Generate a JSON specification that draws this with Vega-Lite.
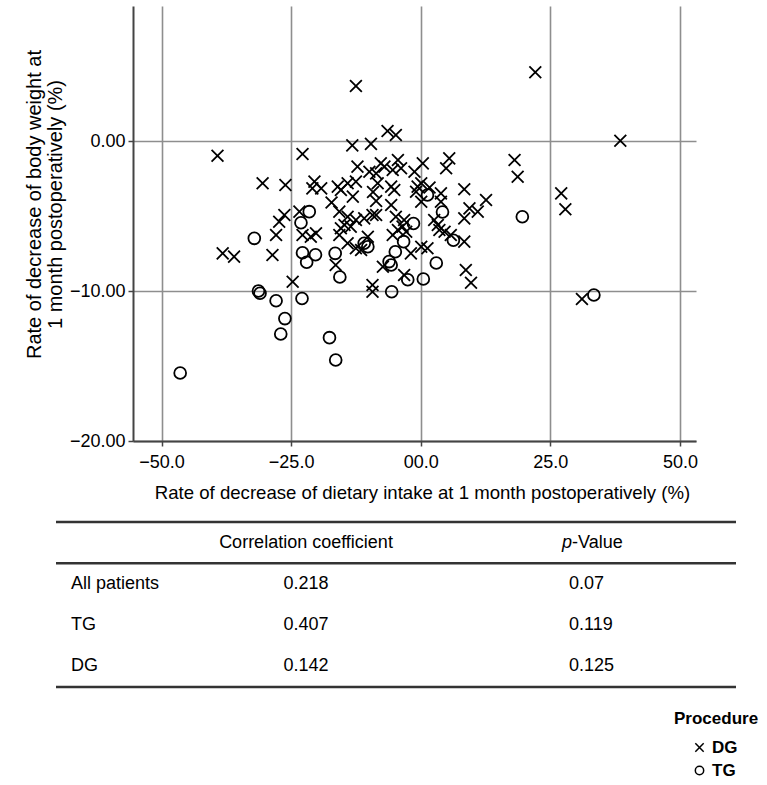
{
  "$schema": "https://vega.github.io/schema/vega-lite/v6.json",
  "background": "white",
  "padding": {"left": 24, "top": 6, "right": 5, "bottom": 5},
  "config": {"font": "Liberation Sans", "view": {"stroke": null}},
  "spacing": 18,
  "vconcat": [
    {
      "width": 563,
      "height": 435,
      "data": {"values": [
        {"intake": -46.4, "weight": -15.47, "Procedure": "TG"},
        {"intake": -32.1, "weight": -6.49, "Procedure": "TG"},
        {"intake": -31.3, "weight": -10.0, "Procedure": "TG"},
        {"intake": -31.0, "weight": -10.15, "Procedure": "TG"},
        {"intake": -27.9, "weight": -10.65, "Procedure": "TG"},
        {"intake": -22.9, "weight": -10.5, "Procedure": "TG"},
        {"intake": -26.2, "weight": -11.84, "Procedure": "TG"},
        {"intake": -27.0, "weight": -12.87, "Procedure": "TG"},
        {"intake": -17.6, "weight": -13.11, "Procedure": "TG"},
        {"intake": -16.4, "weight": -14.6, "Procedure": "TG"},
        {"intake": -22.8, "weight": -7.45, "Procedure": "TG"},
        {"intake": -20.3, "weight": -7.58, "Procedure": "TG"},
        {"intake": -22.0, "weight": -8.08, "Procedure": "TG"},
        {"intake": -16.5, "weight": -7.49, "Procedure": "TG"},
        {"intake": -15.6, "weight": -9.07, "Procedure": "TG"},
        {"intake": -21.5, "weight": -4.71, "Procedure": "TG"},
        {"intake": -23.1, "weight": -5.45, "Procedure": "TG"},
        {"intake": -10.9, "weight": -6.82, "Procedure": "TG"},
        {"intake": -10.2, "weight": -7.05, "Procedure": "TG"},
        {"intake": -4.9, "weight": -7.38, "Procedure": "TG"},
        {"intake": -3.3, "weight": -6.71, "Procedure": "TG"},
        {"intake": -6.1, "weight": -8.04, "Procedure": "TG"},
        {"intake": -5.7, "weight": -8.27, "Procedure": "TG"},
        {"intake": -2.5, "weight": -9.25, "Procedure": "TG"},
        {"intake": 0.5, "weight": -9.2, "Procedure": "TG"},
        {"intake": -5.6, "weight": -10.05, "Procedure": "TG"},
        {"intake": -1.4, "weight": -5.5, "Procedure": "TG"},
        {"intake": 1.3, "weight": -3.6, "Procedure": "TG"},
        {"intake": 4.2, "weight": -4.73, "Procedure": "TG"},
        {"intake": 6.3, "weight": -6.62, "Procedure": "TG"},
        {"intake": 3.0, "weight": -8.13, "Procedure": "TG"},
        {"intake": 19.6, "weight": -5.05, "Procedure": "TG"},
        {"intake": 33.4, "weight": -10.27, "Procedure": "TG"},
        {"intake": -12.5, "weight": 3.67, "Procedure": "DG"},
        {"intake": 22.1, "weight": 4.58, "Procedure": "DG"},
        {"intake": 38.5, "weight": 0.02, "Procedure": "DG"},
        {"intake": -39.2, "weight": -0.98, "Procedure": "DG"},
        {"intake": -22.8, "weight": -0.87, "Procedure": "DG"},
        {"intake": -13.2, "weight": -0.29, "Procedure": "DG"},
        {"intake": -9.6, "weight": -0.19, "Procedure": "DG"},
        {"intake": -6.4, "weight": 0.67, "Procedure": "DG"},
        {"intake": -4.8, "weight": 0.4, "Procedure": "DG"},
        {"intake": -30.5, "weight": -2.82, "Procedure": "DG"},
        {"intake": -26.1, "weight": -2.93, "Procedure": "DG"},
        {"intake": -20.5, "weight": -2.71, "Procedure": "DG"},
        {"intake": -20.9, "weight": -3.16, "Procedure": "DG"},
        {"intake": -19.2, "weight": -3.16, "Procedure": "DG"},
        {"intake": -12.2, "weight": -1.71, "Procedure": "DG"},
        {"intake": -16.0, "weight": -3.04, "Procedure": "DG"},
        {"intake": -15.4, "weight": -3.27, "Procedure": "DG"},
        {"intake": -14.1, "weight": -2.82, "Procedure": "DG"},
        {"intake": -12.5, "weight": -2.71, "Procedure": "DG"},
        {"intake": -13.1, "weight": -3.71, "Procedure": "DG"},
        {"intake": -17.2, "weight": -4.1, "Procedure": "DG"},
        {"intake": -9.9, "weight": -2.05, "Procedure": "DG"},
        {"intake": -8.6, "weight": -2.16, "Procedure": "DG"},
        {"intake": -9.2, "weight": -3.4, "Procedure": "DG"},
        {"intake": -8.6, "weight": -4.0, "Procedure": "DG"},
        {"intake": -26.3, "weight": -4.93, "Procedure": "DG"},
        {"intake": -27.3, "weight": -5.38, "Procedure": "DG"},
        {"intake": -23.4, "weight": -4.71, "Procedure": "DG"},
        {"intake": -15.7, "weight": -4.71, "Procedure": "DG"},
        {"intake": -14.1, "weight": -5.05, "Procedure": "DG"},
        {"intake": -12.5, "weight": -5.27, "Procedure": "DG"},
        {"intake": -10.9, "weight": -5.16, "Procedure": "DG"},
        {"intake": -9.3, "weight": -4.93, "Procedure": "DG"},
        {"intake": -14.7, "weight": -5.6, "Procedure": "DG"},
        {"intake": -13.5, "weight": -5.71, "Procedure": "DG"},
        {"intake": -7.7, "weight": -1.49, "Procedure": "DG"},
        {"intake": -4.4, "weight": -1.27, "Procedure": "DG"},
        {"intake": -7.0, "weight": -1.71, "Procedure": "DG"},
        {"intake": -5.4, "weight": -1.93, "Procedure": "DG"},
        {"intake": -3.8, "weight": -1.82, "Procedure": "DG"},
        {"intake": -1.2, "weight": -2.05, "Procedure": "DG"},
        {"intake": 0.4, "weight": -1.49, "Procedure": "DG"},
        {"intake": 5.5, "weight": -1.16, "Procedure": "DG"},
        {"intake": 4.9, "weight": -1.82, "Procedure": "DG"},
        {"intake": 18.1, "weight": -1.27, "Procedure": "DG"},
        {"intake": 18.7, "weight": -2.38, "Procedure": "DG"},
        {"intake": -8.3, "weight": -2.82, "Procedure": "DG"},
        {"intake": -5.7, "weight": -3.04, "Procedure": "DG"},
        {"intake": -5.1, "weight": -3.27, "Procedure": "DG"},
        {"intake": -0.6, "weight": -3.04, "Procedure": "DG"},
        {"intake": 0.1, "weight": -2.82, "Procedure": "DG"},
        {"intake": -0.9, "weight": -3.38, "Procedure": "DG"},
        {"intake": 0.1, "weight": -4.05, "Procedure": "DG"},
        {"intake": 3.9, "weight": -3.49, "Procedure": "DG"},
        {"intake": 3.9, "weight": -4.05, "Procedure": "DG"},
        {"intake": 8.4, "weight": -3.22, "Procedure": "DG"},
        {"intake": 12.6, "weight": -3.93, "Procedure": "DG"},
        {"intake": 9.4, "weight": -4.49, "Procedure": "DG"},
        {"intake": 11.0, "weight": -4.71, "Procedure": "DG"},
        {"intake": 8.4, "weight": -5.16, "Procedure": "DG"},
        {"intake": -5.7, "weight": -4.27, "Procedure": "DG"},
        {"intake": -4.8, "weight": -5.05, "Procedure": "DG"},
        {"intake": -3.2, "weight": -5.27, "Procedure": "DG"},
        {"intake": -8.6, "weight": -4.93, "Procedure": "DG"},
        {"intake": 2.6, "weight": -5.27, "Procedure": "DG"},
        {"intake": 3.3, "weight": -5.6, "Procedure": "DG"},
        {"intake": 27.1, "weight": -3.49, "Procedure": "DG"},
        {"intake": 27.9, "weight": -4.55, "Procedure": "DG"},
        {"intake": 1.7, "weight": -3.1, "Procedure": "DG"},
        {"intake": -27.9, "weight": -6.27, "Procedure": "DG"},
        {"intake": -28.6, "weight": -7.6, "Procedure": "DG"},
        {"intake": -22.8, "weight": -6.27, "Procedure": "DG"},
        {"intake": -21.2, "weight": -6.38, "Procedure": "DG"},
        {"intake": -20.2, "weight": -6.15, "Procedure": "DG"},
        {"intake": -16.4, "weight": -8.27, "Procedure": "DG"},
        {"intake": -15.4, "weight": -5.82, "Procedure": "DG"},
        {"intake": -15.7, "weight": -6.27, "Procedure": "DG"},
        {"intake": -14.1, "weight": -6.82, "Procedure": "DG"},
        {"intake": -12.5, "weight": -7.15, "Procedure": "DG"},
        {"intake": -11.5, "weight": -7.27, "Procedure": "DG"},
        {"intake": -10.2, "weight": -6.38, "Procedure": "DG"},
        {"intake": -24.7, "weight": -9.38, "Procedure": "DG"},
        {"intake": -9.3, "weight": -9.6, "Procedure": "DG"},
        {"intake": -9.3, "weight": -10.05, "Procedure": "DG"},
        {"intake": -38.2, "weight": -7.49, "Procedure": "DG"},
        {"intake": -36.0, "weight": -7.71, "Procedure": "DG"},
        {"intake": -5.4, "weight": -6.27, "Procedure": "DG"},
        {"intake": -4.4, "weight": -5.93, "Procedure": "DG"},
        {"intake": -3.5, "weight": -5.71, "Procedure": "DG"},
        {"intake": -2.8, "weight": -6.05, "Procedure": "DG"},
        {"intake": 0.1, "weight": -7.05, "Procedure": "DG"},
        {"intake": 1.3, "weight": -7.15, "Procedure": "DG"},
        {"intake": -1.9, "weight": -7.49, "Procedure": "DG"},
        {"intake": -7.3, "weight": -8.38, "Procedure": "DG"},
        {"intake": 3.6, "weight": -5.93, "Procedure": "DG"},
        {"intake": 4.6, "weight": -6.05, "Procedure": "DG"},
        {"intake": 5.8, "weight": -6.27, "Procedure": "DG"},
        {"intake": 8.4, "weight": -6.71, "Procedure": "DG"},
        {"intake": 8.7, "weight": -8.6, "Procedure": "DG"},
        {"intake": 9.7, "weight": -9.45, "Procedure": "DG"},
        {"intake": -3.2, "weight": -8.93, "Procedure": "DG"},
        {"intake": 31.1, "weight": -10.53, "Procedure": "DG"}
      ]},
      "mark": {"type": "point", "filled": false, "stroke": "black", "strokeWidth": 1.8, "size": 140, "opacity": 1},
      "encoding": {
        "x": {
          "field": "intake", "type": "quantitative",
          "scale": {"domain": [-55.5, 53.1], "nice": false, "zero": false},
          "axis": {
            "values": [-50, -25, 0, 25, 50],
            "labelExpr": "datum.value == 0 ? '00.0' : format(datum.value, '.1f')",
            "grid": true, "gridColor": "#8e8e8e", "gridWidth": 1.6,
            "domainColor": "#444444", "domainWidth": 2, "tickColor": "#444444", "tickSize": 5, "tickWidth": 1.5,
            "labelFontSize": 18, "labelColor": "black", "labelPadding": 7,
            "title": "Rate of decrease of dietary intake at 1 month postoperatively (%)",
            "titleFontSize": 18.6, "titleFontWeight": "normal", "titleColor": "black", "titlePadding": 12,
            "titleX": 289
          }
        },
        "y": {
          "field": "weight", "type": "quantitative",
          "scale": {"domain": [-20, 9], "nice": false, "zero": false},
          "axis": {
            "values": [-20, -10, 0],
            "labelExpr": "format(datum.value, '.2f')",
            "grid": true, "gridColor": "#8e8e8e", "gridWidth": 1.6,
            "domainColor": "#444444", "domainWidth": 2, "tickColor": "#444444", "tickSize": 5, "tickWidth": 1.5,
            "labelFontSize": 18, "labelColor": "black", "labelPadding": 3,
            "title": ["Rate of decrease of body weight at", "1 month postoperatively (%)"],
            "titleFontSize": 20, "titleFontWeight": "normal", "titleColor": "black", "titlePadding": 4, "titleLineHeight": 21,
            "titleY": 198
          }
        },
        "shape": {
          "field": "Procedure", "type": "nominal",
          "scale": {"domain": ["DG", "TG"], "range": ["M-1,-1L1,1M-1,1L1,-1", "circle"]},
          "legend": {
            "orient": "none", "legendX": 541, "legendY": 705,
            "title": "Procedure", "titleFontSize": 17, "titleFontWeight": "bold", "titleColor": "black", "titlePadding": 11,
            "labelFontSize": 17, "labelFontWeight": "bold", "labelColor": "black",
            "symbolSize": 70, "symbolStrokeColor": "black", "symbolStrokeWidth": 1.5, "symbolFillColor": "transparent",
            "symbolOffset": 17, "rowPadding": 5, "labelOffset": 4
          }
        }
      }
    },
    {
      "width": 603,
      "height": 165,
      "data": {"values": [
        {"Group": "All patients", "r": "0.218", "p": "0.07"},
        {"Group": "TG", "r": "0.407", "p": "0.119"},
        {"Group": "DG", "r": "0.142", "p": "0.125"}
      ]},
      "encoding": {
        "y": {"field": "Group", "type": "nominal", "scale": {"type": "band", "domain": ["Header", "All patients", "TG", "DG"], "paddingInner": 0, "paddingOuter": 0}, "axis": null},
        "x": {"datum": "Group", "type": "nominal", "scale": {"type": "point", "domain": ["Group", "Correlation coefficient", "p-Value"], "range": [-77, 603], "padding": 0}, "axis": null}
      },
      "layer": [
        {"data": {"values": [{"line": "top"}]}, "mark": {"type": "rule", "stroke": "#333333", "strokeWidth": 2.5}, "encoding": {"y": {"datum": "Header", "bandPosition": 0}, "x": {"datum": "Group"}, "x2": {"datum": "p-Value"}}},
        {"data": {"values": [{"line": "mid"}]}, "mark": {"type": "rule", "stroke": "#333333", "strokeWidth": 2.5}, "encoding": {"y": {"datum": "All patients", "bandPosition": 0}, "x": {"datum": "Group"}, "x2": {"datum": "p-Value"}}},
        {"data": {"values": [{"line": "bottom"}]}, "mark": {"type": "rule", "stroke": "#333333", "strokeWidth": 2.5}, "encoding": {"y": {"datum": "DG", "bandPosition": 1}, "x": {"datum": "Group"}, "x2": {"datum": "p-Value"}}},
        {"data": {"values": [{"header": "Correlation coefficient"}]}, "mark": {"type": "text", "fontSize": 18, "align": "center", "baseline": "middle", "dx": -90, "color": "black"},
         "encoding": {"y": {"datum": "Header", "bandPosition": 0.5}, "x": {"datum": "Correlation coefficient"}, "text": {"field": "header"}}},
        {"data": {"values": [{"header": "p"}]}, "mark": {"type": "text", "fontSize": 18, "fontStyle": "italic", "align": "right", "baseline": "middle", "dx": -164, "color": "black"},
         "encoding": {"y": {"datum": "Header", "bandPosition": 0.5}, "x": {"datum": "p-Value"}, "text": {"field": "header"}}},
        {"data": {"values": [{"header": "-Value"}]}, "mark": {"type": "text", "fontSize": 18, "align": "left", "baseline": "middle", "dx": -164, "color": "black"},
         "encoding": {"y": {"datum": "Header", "bandPosition": 0.5}, "x": {"datum": "p-Value"}, "text": {"field": "header"}}},
        {"mark": {"type": "text", "fontSize": 18, "align": "left", "baseline": "middle", "dx": 15, "color": "black"},
         "encoding": {"y": {"field": "Group", "type": "nominal", "bandPosition": 0.5}, "x": {"datum": "Group"}, "text": {"field": "Group"}}},
        {"mark": {"type": "text", "fontSize": 18, "align": "center", "baseline": "middle", "dx": -90, "color": "black"},
         "encoding": {"y": {"field": "Group", "type": "nominal", "bandPosition": 0.5}, "x": {"datum": "Correlation coefficient"}, "text": {"field": "r"}}},
        {"mark": {"type": "text", "fontSize": 18, "align": "left", "baseline": "middle", "dx": -167, "color": "black"},
         "encoding": {"y": {"field": "Group", "type": "nominal", "bandPosition": 0.5}, "x": {"datum": "p-Value"}, "text": {"field": "p"}}}
      ]
    }
  ]
}
